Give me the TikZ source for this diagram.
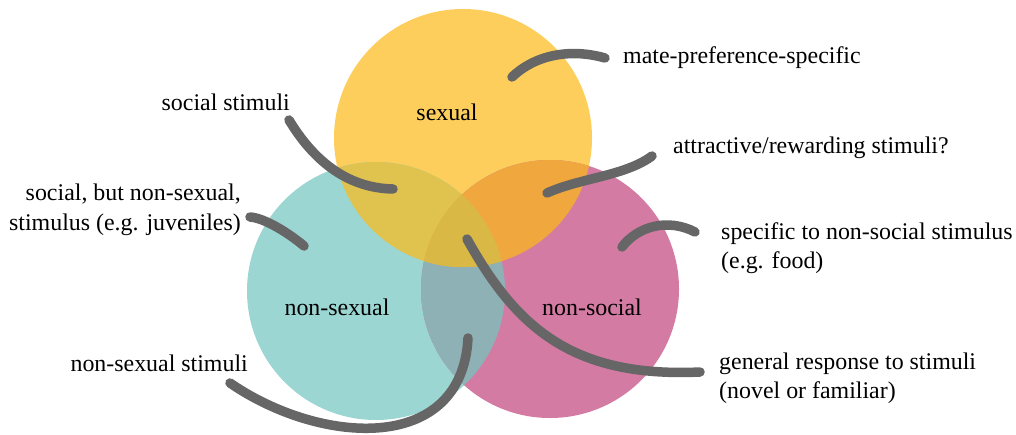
\documentclass[tikz,border=0pt]{standalone}
\usepackage{fontspec}
\setmainfont{Liberation Serif}
\usetikzlibrary{positioning}

\definecolor{sexcol}{HTML}{FDCE5C}
\definecolor{nsexcol}{HTML}{9BD6D2}
\definecolor{nsoccol}{HTML}{D47BA4}
\definecolor{sncol}{HTML}{E0C24F}
\definecolor{socol}{HTML}{F0A73E}
\definecolor{nocol}{HTML}{8DB1B5}
\definecolor{allcol}{HTML}{DAB846}
\definecolor{linkgray}{HTML}{666666}

\tikzset{
    lbl/.style={font=\fontsize{23.9}{29.5}\selectfont, inner sep=0pt},
    link/.style={line width=9.5pt, line cap=round, draw=linkgray},
    disc/.style={radius=129pt}
    }

\begin{document}
\begin{tikzpicture}[x=1pt, y=-1pt]
                \useasboundingbox (0,0) rectangle (1016,434);
                % The circles
                \coordinate (S) at (463,138);
                \coordinate (N) at (376,291);
                \coordinate (O) at (550,289);
                \fill[sexcol] (S) circle[disc];
                \fill[nsexcol] (N) circle[disc];
                \fill[nsoccol] (O) circle[disc];
                \begin{scope}
                    \clip (N) circle[disc];
                    \fill[nocol] (O) circle[disc];
                \end{scope}
                \begin{scope}
                    \clip (S) circle[disc];
                    \fill[sncol] (N) circle[disc];
                    \fill[socol] (O) circle[disc];
                    \clip (N) circle[disc];
                    \fill[allcol] (O) circle[disc];
                \end{scope}
                % The labels
                \node[lbl] (sexual) at (447,112) {sexual};
                \node[lbl] (nonsexual) at (337,307) {non-sexual};
                \node[lbl] (nonsocial) at (592,307) {non-social};
                \node[lbl, anchor=west] (mate) at (623,58) {mate-preference-specific};
                \node[lbl, anchor=west] (attr) at (673,148) {attractive/rewarding stimuli?};
                \node[lbl, anchor=east] (social) at (290,102) {social stimuli};
                \node[lbl, align=right, anchor=east] (juv) at (241,210) {social, but non-sexual,\\stimulus (e.g. juveniles)};
                \node[lbl, anchor=east] (nsstim) at (248,363) {non-sexual stimuli};
                \node[lbl, align=left, anchor=west] (food) at (721,248) {specific to non-social stimulus\\(e.g. food)};
                \node[lbl, align=left, anchor=west] (general) at (719,378) {general response to stimuli\\(novel or familiar)};
                % The links
                \coordinate (mateEnd) at (512,77);
                \coordinate (attrEnd) at (547,193);
                \coordinate (socialEnd) at (393,189);
                \coordinate (juvEnd) at (304,246);
                \coordinate (generalEnd) at (467,239);
                \coordinate (nsstimEnd) at (468,338);
                \coordinate (foodEnd) at (622,247);
                \draw[link] (mateEnd) .. controls (535,55) and (570,48) .. ([xshift=-18pt]mate.west);
                \draw[link] (attrEnd) .. controls (580,178) and (625,176) .. ([xshift=-21pt,yshift=-8pt]attr.west);
                \draw[link] ([xshift=-1pt,yshift=-18pt]social.east) .. controls (312,158) and (345,188) .. (socialEnd);
                \draw[link] ([xshift=9pt,yshift=-7pt]juv.east) .. controls (265,218) and (290,234) .. (juvEnd);
                \draw[link] (generalEnd) .. controls (515,325) and (570,378) .. ([xshift=-19pt,yshift=6pt]general.west);
                \draw[link] ([xshift=-18pt,yshift=-20pt]nsstim.east) .. controls (320,445) and (462,455) .. (nsstimEnd);
                \draw[link] (foodEnd) .. controls (638,226) and (668,218) .. ([xshift=-26pt,yshift=16pt]food.west);
            \end{tikzpicture}
\end{document}
